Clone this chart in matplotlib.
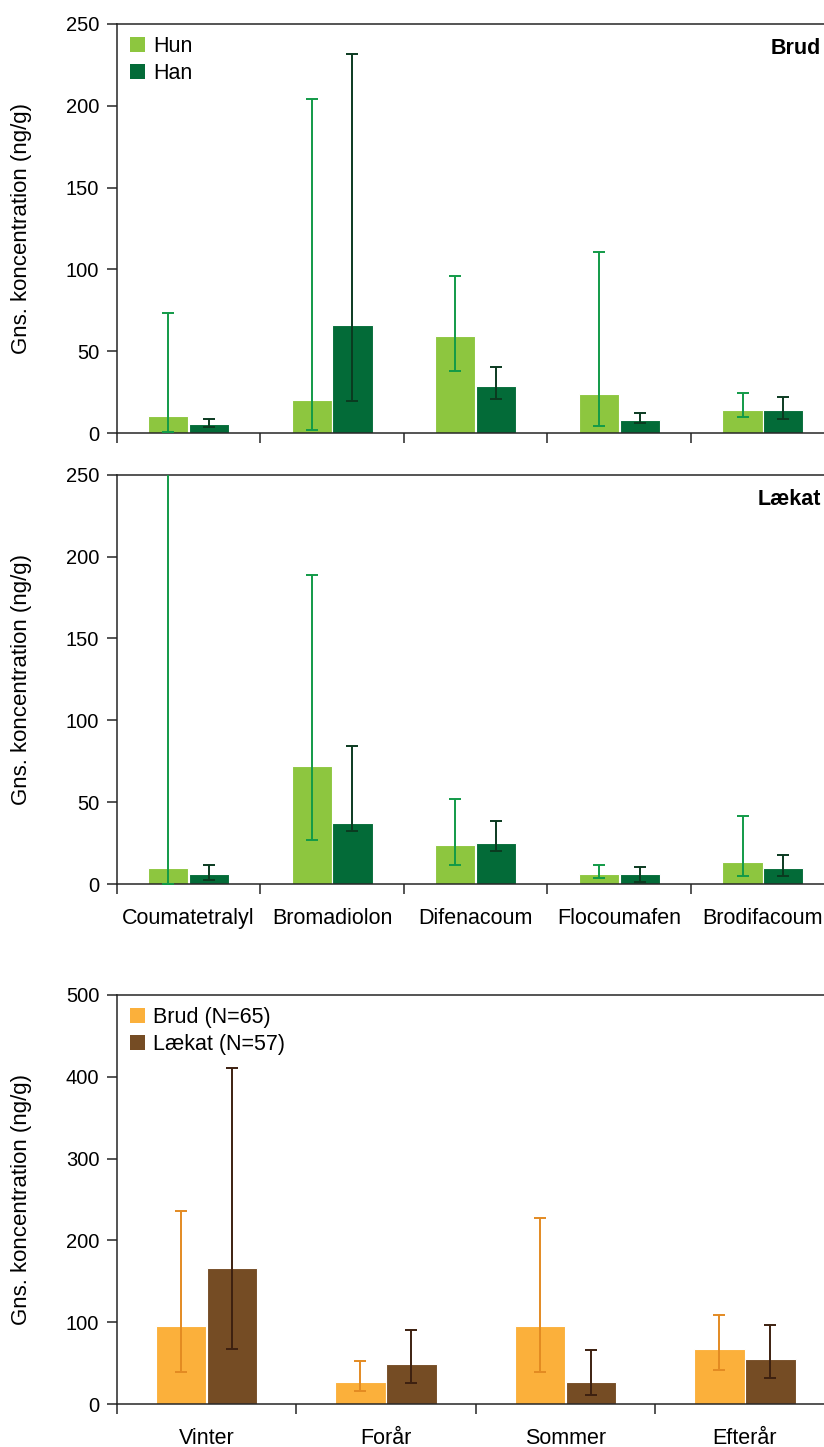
import matplotlib

matplotlib.use("Agg")
import matplotlib.pyplot as plt
import numpy as np
from matplotlib.patches import Patch

plt.rcParams["font.family"] = ["Liberation Sans", "DejaVu Sans"]

COMPOUNDS = ["Coumatetralyl", "Bromadiolon", "Difenacoum", "Flocoumafen", "Brodifacoum"]
SEXES = ["Hun", "Han"]

# Brud: mean and lower/upper end of the error bar, per compound
BRUD_HUN = [10.6, 20.3, 59.6, 24.0, 14.2]
BRUD_HUN_LO = [1.0, 2.2, 38.3, 4.7, 9.8]
BRUD_HUN_HI = [73.7, 204.4, 96.1, 110.8, 24.4]
BRUD_HAN = [5.7, 66.0, 28.9, 8.1, 14.2]
BRUD_HAN_LO = [3.7, 19.5, 21.0, 6.1, 8.5]
BRUD_HAN_HI = [8.5, 231.7, 40.7, 12.2, 22.0]

# Lækat
LAEKAT_HUN = [9.9, 72.2, 24.0, 6.1, 13.6]
LAEKAT_HUN_LO = [0.3, 27.2, 11.6, 3.8, 5.1]
LAEKAT_HUN_HI = [265.0, 189.0, 51.9, 11.6, 41.5]
LAEKAT_HAN = [6.1, 37.2, 25.4, 6.1, 9.9]
LAEKAT_HAN_LO = [2.6, 32.5, 20.5, 1.4, 5.1]
LAEKAT_HAN_HI = [11.8, 84.2, 38.8, 10.4, 18.1]

# seasons, both species
SEASONS = ["Vinter", "Forår", "Sommer", "Efterår"]
SPECIES = ["Brud (N=65)", "Lækat (N=57)"]
SEASON_BRUD = [95.6, 27.2, 95.6, 67.5]
SEASON_BRUD_LO = [39.8, 15.9, 39.8, 42.3]
SEASON_BRUD_HI = [236.0, 52.5, 227.4, 109.0]
SEASON_LAEKAT = [166.4, 49.2, 27.2, 55.3]
SEASON_LAEKAT_LO = [67.9, 26.0, 11.8, 32.1]
SEASON_LAEKAT_HI = [410.9, 90.7, 66.3, 96.8]

GREEN_LIGHT = "#8dc63f"
GREEN_DARK = "#036b38"
GREEN_LIGHT_ERR = "#129a48"
GREEN_DARK_ERR = "#0b3a20"
ORANGE = "#fbb03b"
BROWN = "#754c24"
ORANGE_ERR = "#e38a22"
BROWN_ERR = "#3d2010"

SPINE = "#262626"
BAR_W = 0.28
OFFSET = 0.142
YLABEL = "Gns. koncentration (ng/g)"


def draw_bars(ax, means, los, his, colors, err_colors):
    n = len(means[0])
    x = np.arange(n) + 0.5
    for k, (m, lo, hi, c, ec) in enumerate(zip(means, los, his, colors, err_colors)):
        m = np.array(m)
        yerr = [m - np.array(lo), np.array(hi) - m]
        pos = x + (k * 2 - 1) * OFFSET
        ax.bar(pos, m, width=BAR_W, color=c, edgecolor="white", linewidth=0.8, zorder=2)
        ax.errorbar(pos, m, yerr=yerr, fmt="none", ecolor=ec, elinewidth=1.4,
                    capsize=4.2, capthick=1.4, zorder=3)


def style_axes(ax, n, ymax, ystep, labels=None):
    ax.set_xlim(0, n)
    ax.set_ylim(0, ymax)
    ax.spines["right"].set_visible(False)
    for side in ["left", "top", "bottom"]:
        ax.spines[side].set_color(SPINE)
        ax.spines[side].set_linewidth(1.1)
    ax.set_yticks(np.arange(0, ymax + 1, ystep))
    ax.tick_params(axis="y", length=7.5, width=1.1, color=SPINE, labelsize=14.5, pad=5)
    ax.set_xticks(np.arange(n))
    ax.tick_params(axis="x", which="major", length=7.5, width=1.1, color=SPINE,
                   labelbottom=False)
    if labels is not None:
        ax.set_xticks(np.arange(n) + 0.5, minor=True)
        ax.set_xticklabels(labels, minor=True)
        ax.tick_params(axis="x", which="minor", length=0, labelsize=15.5, pad=17)
    ax.set_ylabel(YLABEL, fontsize=16)
    ax.yaxis.label.set_va("center")
    ax.yaxis.set_label_coords(-0.132, 0.5)


def add_legend(ax, labels, colors):
    handles = [Patch(facecolor=c, edgecolor="none") for c in colors]
    ax.legend(handles, labels, loc="upper left", bbox_to_anchor=(0.019, 0.97),
              frameon=False, fontsize=15.5, handlelength=0.7, handleheight=0.7,
              handletextpad=0.35, labelspacing=0.28, borderpad=0, borderaxespad=0)


fig = plt.figure(figsize=(8.24, 14.47), dpi=100)
ax1 = fig.add_axes([0.1416, 0.7006, 0.8714, 0.2829])
ax2 = fig.add_axes([0.1416, 0.3889, 0.8714, 0.2831])
ax3 = fig.add_axes([0.1416, 0.0295, 0.8714, 0.2831])

draw_bars(ax1, [BRUD_HUN, BRUD_HAN], [BRUD_HUN_LO, BRUD_HAN_LO], [BRUD_HUN_HI, BRUD_HAN_HI],
          [GREEN_LIGHT, GREEN_DARK], [GREEN_LIGHT_ERR, GREEN_DARK_ERR])
style_axes(ax1, len(COMPOUNDS), 250, 50)
add_legend(ax1, SEXES, [GREEN_LIGHT, GREEN_DARK])
ax1.text(0.981, 0.94, "Brud", transform=ax1.transAxes, ha="right", va="center",
         fontsize=15.5, fontweight="bold")

draw_bars(ax2, [LAEKAT_HUN, LAEKAT_HAN], [LAEKAT_HUN_LO, LAEKAT_HAN_LO],
          [LAEKAT_HUN_HI, LAEKAT_HAN_HI],
          [GREEN_LIGHT, GREEN_DARK], [GREEN_LIGHT_ERR, GREEN_DARK_ERR])
style_axes(ax2, len(COMPOUNDS), 250, 50, COMPOUNDS)
ax2.text(0.981, 0.939, "Lækat", transform=ax2.transAxes, ha="right", va="center",
         fontsize=15.5, fontweight="bold")

draw_bars(ax3, [SEASON_BRUD, SEASON_LAEKAT], [SEASON_BRUD_LO, SEASON_LAEKAT_LO],
          [SEASON_BRUD_HI, SEASON_LAEKAT_HI], [ORANGE, BROWN], [ORANGE_ERR, BROWN_ERR])
style_axes(ax3, len(SEASONS), 500, 100, SEASONS)
add_legend(ax3, SPECIES, [ORANGE, BROWN])

fig.savefig("out.png", dpi=100)
